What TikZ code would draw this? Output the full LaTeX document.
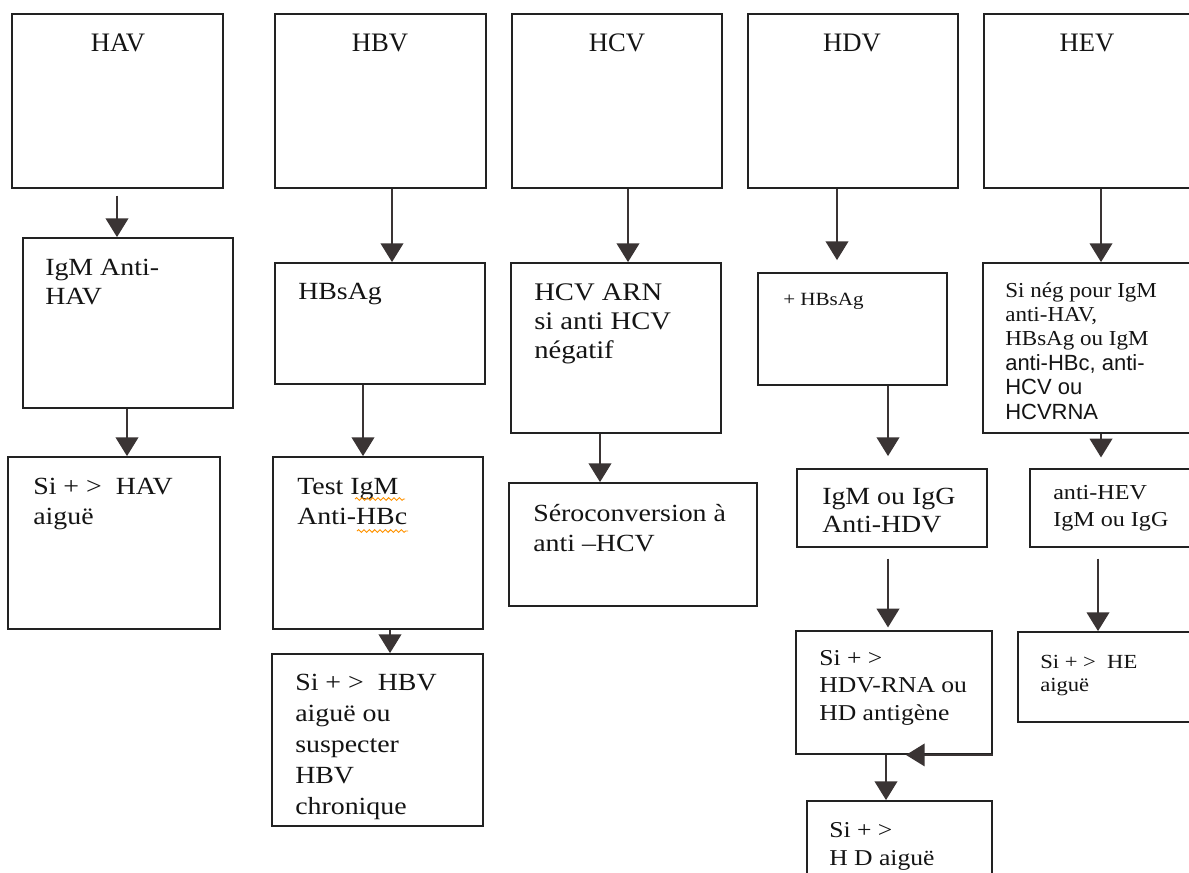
\documentclass[tikz,border=0pt]{standalone}
\usepackage{fontspec}
\setmainfont{Liberation Serif}
\newfontfamily\bodyf[FakeStretch=1.13]{Liberation Serif}
\newfontfamily\negf[FakeStretch=1.08]{Liberation Serif}
\newfontfamily\sansf{Liberation Sans}
\usetikzlibrary{arrows.meta,fit,decorations.pathmorphing}
\definecolor{boxc}{HTML}{222222}
\definecolor{arrc}{HTML}{3A3434}
\definecolor{txtc}{HTML}{141414}
\begin{document}
\begin{tikzpicture}[x=0.75pt,y=-0.75pt,
  bx/.style={draw=boxc, line width=1.4pt, inner sep=0pt},
  ttl/.style={anchor=base, inner sep=0pt, font=\fontsize{20}{24}\selectfont, text=txtc},
  txt/.style={anchor=north west, inner sep=0pt, align=left, text=txtc},
  arr/.style={draw=arrc, line width=1.1pt, -{Triangle[width=17pt,length=14pt]}},
  squig/.style={draw=orange!85!yellow, line width=0.7pt, decorate, decoration={snake, amplitude=1pt, segment length=4pt}}
]
\useasboundingbox (0,0) rectangle (1189,872);
\fill[white] (0,0) rectangle (1189,872);
\clip (0,0) rectangle (1189,872);

% ---- row 1
\node[bx, fit={(12,14)(223,188)}] (hav) {};
\node[bx, fit={(275,14)(486,188)}] (hbv) {};
\node[bx, fit={(512,14)(722,188)}] (hcv) {};
\node[bx, fit={(748,14)(958,188)}] (hdv) {};
\node[bx, fit={(984,14)(1220,188)}] (hev) {};
\node[ttl] (havt) at (118,51) {HAV};
\node[ttl] (hbvt) at (380,51) {HBV};
\node[ttl] (hcvt) at (617,51) {HCV};
\node[ttl] (hdvt) at (852,51) {HDV};
\node[ttl] (hevt) at (1087,51) {HEV};

% ---- row 2
\node[bx, fit={(23,238)(233,408)}] (igmhav) {};
\node[bx, fit={(275,263)(485,384)}] (hbsag) {};
\node[bx, fit={(511,263)(721,433)}] (hcvarn) {};
\node[bx, fit={(758,273)(947,385)}] (phbsag) {};
\node[bx, fit={(983,263)(1220,433)}] (sineg) {};

\node[txt, font=\bodyf\fontsize{18.5}{21.75}\selectfont] (igmhavt) at (45,259) {IgM Anti-\\HAV};
\node[txt, font=\bodyf\fontsize{18.5}{21.75}\selectfont] (hbsagt) at (298,283) {HBsAg};
\node[txt, font=\bodyf\fontsize{19}{21.75}\selectfont] (hcvarnt) at (534,283) {HCV ARN\\si anti HCV\\négatif};
\node[txt, font=\bodyf\fontsize{14}{17}\selectfont] (phbsagt) at (783,293) {+ HBsAg};
\node[txt, font=\negf\fontsize{16}{18.3}\selectfont] (senegt) at (1005,282)
  {Si nég pour IgM\\anti-HAV,\\HBsAg ou IgM\\{\sansf\fontsize{16.5}{18.3}\selectfont anti-HBc, anti-}\\{\sansf\fontsize{16.5}{18.3}\selectfont HCV ou}\\{\sansf\fontsize{16.5}{18.3}\selectfont HCVRNA}};

% ---- row 3
\node[bx, fit={(8,457)(220,629)}] (sihav) {};
\node[bx, fit={(273,457)(483,629)}] (testigm) {};
\node[bx, fit={(509,483)(757,606)}] (sero) {};
\node[bx, fit={(797,469)(987,547)}] (igmhdv) {};
\node[bx, fit={(1030,469)(1220,547)}] (antihev) {};

\node[txt, font=\bodyf\fontsize{18.5}{22.5}\selectfont] (sihavt) at (33,478) {Si + >~ HAV\\aiguë};
\node[txt, font=\bodyf\fontsize{18.5}{22.5}\selectfont] (testigmt) at (297,478) {Test IgM\\Anti-HBc};
\node[txt, font=\bodyf\fontsize{18.5}{22.5}\selectfont] (serot) at (533,504) {Séroconversion à\\anti –HCV};
\node[txt, font=\bodyf\fontsize{18.5}{21}\selectfont] (igmhdvt) at (822,488) {IgM ou IgG\\Anti-HDV};
\node[txt, font=\bodyf\fontsize{16}{20.25}\selectfont] (antihevt) at (1053,485) {anti-HEV\\IgM ou IgG};

% ---- row 4
\node[bx, fit={(272,654)(483,826)}] (sihbv) {};
\node[bx, fit={(796,631)(992,754)}] (hdvrna) {};
\node[bx, fit={(1018,632)(1220,722)}] (sihe) {};

\node[txt, font=\bodyf\fontsize{18.5}{23.25}\selectfont] (sihbvt) at (295,674) {Si + >~ HBV\\aiguë ou\\suspecter\\HBV\\chronique};
\node[txt, font=\bodyf\fontsize{17}{20.6}\selectfont] (hdvrnat) at (819,650) {Si + >\\HDV-RNA ou\\HD antigène};
\node[txt, font=\bodyf\fontsize{15}{17.25}\selectfont] (sihet) at (1040,655) {Si + >~ HE\\aiguë};

% ---- row 5
\node[bx, fit={(807,801)(992,900)}] (hdaigue) {};
\node[txt, font=\bodyf\fontsize{17}{21}\selectfont] (hdaiguet) at (829,822) {Si + >\\H D aiguë};

% ---- connector x positions
\coordinate (k1) at (117,0);
\coordinate (k2) at (392,0);
\coordinate (k3) at (628,0);
\coordinate (k4) at (837,0);
\coordinate (k5) at (1101,0);
\coordinate (k6) at (127,0);
\coordinate (k7) at (363,0);
\coordinate (k8) at (600,0);
\coordinate (k9) at (888,0);
\coordinate (k11) at (390,0);
\coordinate (k13) at (1098,0);
\coordinate (k14) at (886,0);
\coordinate (k15) at (906,0);

% ---- connectors
\draw[arr] ([yshift=-5pt]hav.south -| k1) -- (igmhav.north -| k1);
\draw[arr] (hbv.south -| k2) -- (hbsag.north -| k2);
\draw[arr] (hcv.south -| k3) -- (hcvarn.north -| k3);
\draw[arr] (hdv.south -| k4) -- ([yshift=9pt]phbsag.north -| k4);
\draw[arr] (hev.south -| k5) -- (sineg.north -| k5);
\draw[arr] (igmhav.south -| k6) -- (sihav.north -| k6);
\draw[arr] (hbsag.south -| k7) -- (testigm.north -| k7);
\draw[arr] (hcvarn.south -| k8) -- (sero.north -| k8);
\draw[arr] (phbsag.south -| k9) -- ([yshift=9pt]igmhdv.north -| k9);
\draw[arr] (sineg.south -| k5) -- ([yshift=8pt]antihev.north -| k5);
\draw[arr] (testigm.south -| k11) -- (sihbv.north -| k11);
\draw[arr] ([yshift=-8pt]igmhdv.south -| k9) -- ([yshift=2pt]hdvrna.north -| k9);
\draw[arr] ([yshift=-8pt]antihev.south -| k13) -- (sihe.north -| k13);
\draw[arr] (hdvrna.south -| k14) -- (hdaigue.north -| k14);
\draw[arr] (hdvrna.south east) -- (hdvrna.south -| k15);

% ---- spell-check squiggles
\draw[squig] (355,499) -- (405,499);
\draw[squig] (357,531) -- (408,531);
\end{tikzpicture}
\end{document}
